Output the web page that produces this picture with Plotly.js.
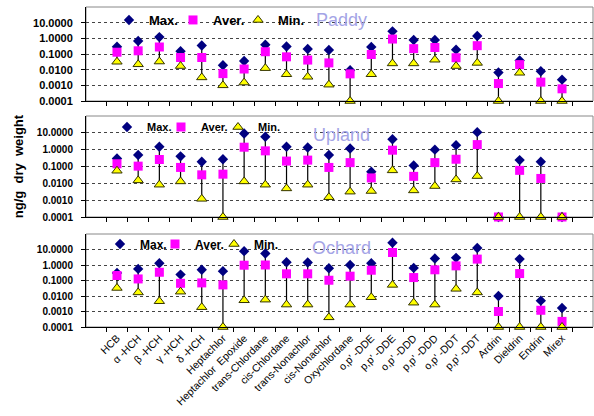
<!DOCTYPE html>
<html>
<head>
<meta charset="utf-8">
<script src="https://cdn.plot.ly/plotly-3.0.1.min.js"></script>
<style>html,body{margin:0;padding:0;background:#fff;}#chart{width:594px;height:416px;}</style>
</head>
<body>
<div id="chart"></div>
<script>
const categories = ["HCB","\u03b1 -HCH","\u03b2 -HCH","\u03b3 -HCH","\u03b4 -HCH","Heptachlor","Heptachlor  Epoxide","trans-Chlordane","cis-Chlordane","trans-Nonachlor","cis-Nonachlor","Oxychlordane","o,p' -DDE","p,p' -DDE","o,p' -DDD","p,p' -DDD","o,p' -DDT","p,p' -DDT","Ardrin","Dieldrin","Endrin","Mirex"];

const panelNames = ["Paddy","Upland","Ochard"];

const paddyMax  = [0.29,0.67,1.2,0.15,0.35,0.019,0.036,0.39,0.30,0.21,0.18,0.0093,0.28,2.8,0.78,0.78,0.19,1.4,0.0066,0.039,0.0079,0.0023];
const paddyAver = [0.13,0.16,0.28,0.06,0.06,0.0056,0.011,0.14,0.066,0.041,0.027,0.0054,0.093,0.9,0.22,0.26,0.058,0.34,0.0013,0.021,0.0016,0.0006];
const paddyMin  = [0.032,0.022,0.033,0.017,0.0032,0.001,0.0015,0.0125,0.0051,0.0035,0.0011,0.0001,0.0051,0.025,0.025,0.043,0.017,0.027,0.0001,0.0063,0.0001,0.0001];

const uplandMax  = [0.30,0.48,1.48,0.40,0.19,0.27,9.1,5.8,1.48,1.35,0.48,1.17,0.049,4.2,0.115,1.0,1.85,11,0.0001,0.24,0.19,0.0001];
const uplandAver = [0.145,0.105,0.26,0.088,0.032,0.035,1.4,0.85,0.21,0.24,0.088,0.17,0.021,0.93,0.026,0.17,0.27,2.0,0.0001,0.059,0.0195,0.0001];
const uplandMin  = [0.056,0.015,0.0083,0.013,0.0012,0.0001,0.013,0.0083,0.005,0.0083,0.0015,0.0032,0.0035,0.059,0.0038,0.0069,0.017,0.027,0.0001,0.0001,0.0001,0.0001];

const ochardMax  = [0.31,0.56,1.3,0.24,0.49,0.40,7.8,5.5,1.5,1.45,0.62,1.0,1.3,27,0.65,2.6,2.9,12.6,0.01,2.4,0.005,0.0017];
const ochardAver = [0.21,0.126,0.34,0.066,0.07,0.052,0.97,1.0,0.27,0.27,0.104,0.19,0.46,6.4,0.155,0.49,0.88,2.4,0.001,0.28,0.0012,0.00023];
const ochardMin  = [0.033,0.017,0.0046,0.019,0.0019,0.0001,0.0053,0.0058,0.0028,0.0028,0.00042,0.0028,0.0083,0.052,0.0037,0.0028,0.029,0.017,0.0001,0.0001,0.0001,0.0001];

const yTickVals = [0.0001,0.001,0.01,0.1,1,10];
const yTickText = ["0.0001","0.0010","0.0100","0.1000","1.0000","10.0000"];

const seriesNames = ["Max.","Aver.","Min."];

const panels = [
  {max: paddyMax, aver: paddyAver, min: paddyMin},
  {max: uplandMax, aver: uplandAver, min: uplandMin},
  {max: ochardMax, aver: ochardAver, min: ochardMin}
];

// legend entry widths per panel: [Max, Aver, Min]
const legendWidths = [[19, 20, 32], [9, 12, 27], [10, 14, 29]];

const FONT = "Liberation Sans, Arial, sans-serif";
const traces = [];
panels.forEach((p, i) => {
  const xa = i === 0 ? 'x' : 'x' + (i + 1);
  const ya = i === 0 ? 'y' : 'y' + (i + 1);
  const lg = i === 0 ? 'legend' : 'legend' + (i + 1);
  const lw = legendWidths[i];
  traces.push({
    type: 'scatter', mode: 'markers', name: seriesNames[0], x: categories, y: p.max,
    xaxis: xa, yaxis: ya, legend: lg, legendwidth: lw[0], cliponaxis: false,
    marker: {symbol: 'diamond', color: '#000080', size: 8},
    error_y: {type: 'data', symmetric: false, array: p.max.map(() => 0),
              arrayminus: p.max.map((v, k) => v - p.min[k]), width: 0, thickness: 1.2, color: '#000'}
  });
  traces.push({
    type: 'scatter', mode: 'markers', name: seriesNames[1], x: categories, y: p.aver,
    xaxis: xa, yaxis: ya, legend: lg, legendwidth: lw[1], cliponaxis: false,
    marker: {symbol: 'square', color: '#ff00ff', size: 9}
  });
  traces.push({
    type: 'scatter', mode: 'markers', name: seriesNames[2], x: categories, y: p.min,
    xaxis: xa, yaxis: ya, legend: lg, legendwidth: lw[2], cliponaxis: false,
    marker: {symbol: 'triangle-up', color: '#ffff00', size: 9, line: {color: '#333300', width: 1}}
  });
});

const L = 86, R = 1, T = 7, B = 89, H = 416;
const plotH = H - T - B;
function dom(topPx, botPx) {
  return [(H - B - botPx) / plotH, (H - B - topPx) / plotH];
}
const domains = [dom(7, 101), dom(116, 217), dom(234, 327)];

const layout = {
  width: 594, height: 416,
  margin: {l: L, r: R, t: T, b: B},
  paper_bgcolor: '#fff', plot_bgcolor: '#fff',
  font: {family: FONT, color: '#000'},
  showlegend: true,
  annotations: [],
  shapes: []
};

const legendX = [109, 107, 100];
const legendY = [20, 127, 244];
const legendSize = [13, 11, 12];
for (let i = 0; i < 3; i++) {
  const sfx = i === 0 ? '' : String(i + 1);
  layout['xaxis' + sfx] = {
    type: 'category', anchor: 'y' + sfx, domain: [0, 1],
    tickson: 'boundaries', ticks: 'outside', ticklen: 4, tickcolor: '#000',
    showline: true, linecolor: '#000', linewidth: 1, showgrid: false,
    showticklabels: i === 2, tickangle: -45,
    tickfont: {family: FONT, size: 10.5, color: '#000'},
    matches: i === 0 ? undefined : 'x'
  };
  layout['yaxis' + sfx] = {
    type: 'log', range: [-4, 2], domain: domains[i], anchor: 'x' + sfx,
    tickvals: yTickVals, ticktext: yTickText, ticks: 'outside', ticklen: 4, tickcolor: '#000',
    showline: true, linecolor: '#000', linewidth: 1,
    showgrid: true, gridcolor: '#444', griddash: 'dot', gridwidth: 1, zeroline: false,
    tickfont: {family: FONT, size: i === 0 ? 11 : 10, color: '#000', weight: 'bold'},
    ticklabelstandoff: 6
  };
  layout['legend' + sfx] = {
    orientation: 'h', x: (legendX[i] - L) / (594 - L - R), xanchor: 'left',
    y: (H - B - legendY[i]) / plotH, yanchor: 'middle', yref: 'paper',
    bgcolor: 'rgba(0,0,0,0)', borderwidth: 0, itemwidth: 30,
    entrywidthmode: 'pixels',
    font: {family: FONT, size: legendSize[i], color: '#000', weight: 'bold'}
  };
  layout.shapes.push({
    type: 'rect', xref: 'x' + sfx + ' domain', yref: 'y' + sfx + ' domain',
    x0: 0, x1: 1, y0: 0, y1: 1, line: {color: '#888', width: 1}, layer: 'below'
  });
  const yc = [20, 135, 248][i];
  layout.annotations.push({
    text: panelNames[i], xref: 'paper', yref: 'paper',
    x: (341 - L) / (594 - L - R), y: (H - B - yc) / plotH, xanchor: 'center', yanchor: 'middle',
    showarrow: false, font: {family: FONT, size: 18, color: '#a4a4e6'}
  });
}
layout.yaxis2.title = {text: 'ng/g  dry  weight', font: {family: FONT, size: 13, color: '#000', weight: 'bold'}, standoff: 10};

Plotly.newPlot('chart', traces, layout, {displayModeBar: false, staticPlot: true});
</script>
</body>
</html>
